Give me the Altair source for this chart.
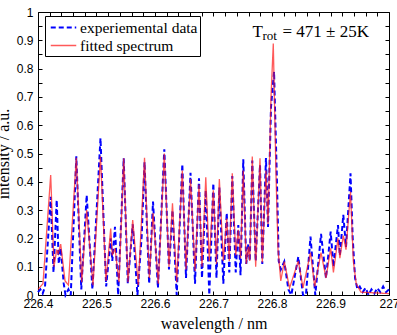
import altair as alt
import pandas as pd

series_names = ["experiemental data", "fitted spectrum"]
series_colors = ["#0000ff", "#ff1a1a"]

# experimental data (blue dashed)
exp_wl = [226.400, 226.404, 226.408, 226.412, 226.4217, 226.4265, 226.4320, 226.4355, 226.4388, 226.4440,
          226.4470, 226.4520, 226.4560, 226.4655, 226.4740, 226.4832, 226.4930, 226.5068, 226.5165, 226.5243,
          226.5270, 226.5316, 226.5370, 226.5465, 226.5535, 226.5619, 226.5700, 226.5773, 226.5821, 226.5900,
          226.5966, 226.6050, 226.6159, 226.6239, 226.6299, 226.6371, 226.6467, 226.6530, 226.6607, 226.6684,
          226.6752, 226.6803, 226.6868, 226.6928, 226.6997, 226.7051, 226.7100, 226.7168, 226.7226, 226.7270,
          226.7321, 226.7380, 226.7424, 226.7462, 226.7509, 226.7560, 226.7595, 226.7620, 226.7663, 226.7721,
          226.7795, 226.7834, 226.7897, 226.7932, 226.7983, 226.8035, 226.8085, 226.8115, 226.8150, 226.8210,
          226.8280, 226.8330, 226.8450, 226.8530, 226.8580, 226.8658, 226.8740, 226.8838, 226.8923, 226.9003,
          226.9050, 226.9128, 226.9160, 226.9219, 226.9265, 226.9342, 226.9380, 226.9420, 226.9460, 226.9500,
          226.9550, 226.9600, 226.9650, 226.9700, 226.9750, 226.9800, 226.9850, 226.9900, 226.9950, 227.000]
exp_int = [0.01, 0.02, 0.005, 0.03, 0.347, 0.08, 0.336, 0.11, 0.165, 0.04,
           0.0, 0.02, 0.0, 0.49, 0.02, 0.353, 0.02, 0.554, 0.03, 0.20,
           0.12, 0.241, 0.0, 0.483, 0.04, 0.25, 0.0, 0.21, 0.47, 0.04,
           0.33, 0.025, 0.515, 0.09, 0.30, 0.0, 0.463, 0.06, 0.432, 0.04,
           0.412, 0.06, 0.37, 0.0, 0.395, 0.06, 0.38, 0.04, 0.29, 0.08,
           0.42, 0.08, 0.247, 0.07, 0.48, 0.11, 0.18, 0.12, 0.475, 0.12,
           0.46, 0.11, 0.484, 0.24, 0.665, 0.789, 0.40, 0.12, 0.09, 0.118,
           0.02, 0.0, 0.135, 0.0, 0.0, 0.206, 0.0, 0.216, 0.06, 0.224,
           0.10, 0.247, 0.14, 0.283, 0.17, 0.43, 0.20, 0.06, 0.02, 0.03,
           0.01, 0.025, 0.0, 0.02, 0.005, 0.025, 0.01, 0.03, 0.01, 0.02]

# fitted spectrum (red solid)
fit_wl = [226.400, 226.4085, 226.4217, 226.4274, 226.4320, 226.4345, 226.4388, 226.4462, 226.4520, 226.4655,
          226.4747, 226.4832, 226.4940, 226.5068, 226.5162, 226.5243, 226.5270, 226.5316, 226.5385, 226.5465,
          226.5538, 226.5619, 226.5715, 226.5821, 226.5903, 226.5966, 226.6056, 226.6159, 226.6239, 226.6299,
          226.6371, 226.6467, 226.6530, 226.6607, 226.6684, 226.6752, 226.6803, 226.6868, 226.6928, 226.6997,
          226.7051, 226.7100, 226.7168, 226.7226, 226.7270, 226.7321, 226.7380, 226.7424, 226.7462, 226.7509,
          226.7560, 226.7595, 226.7620, 226.7663, 226.7721, 226.7795, 226.7834, 226.7897, 226.7932, 226.7983,
          226.8022, 226.8068, 226.8103, 226.8150, 226.8210, 226.8300, 226.8450, 226.8530, 226.8658, 226.8730,
          226.8838, 226.8923, 226.9003, 226.9050, 226.9128, 226.9160, 226.9219, 226.9265, 226.9342, 226.9390,
          226.9440, 226.9520, 227.000]
fit_int = [0.02, 0.04, 0.424, 0.10, 0.16, 0.145, 0.18, 0.05, 0.035, 0.485,
           0.045, 0.30, 0.035, 0.49, 0.05, 0.235, 0.14, 0.165, 0.045, 0.483,
           0.045, 0.265, 0.035, 0.485, 0.06, 0.29, 0.04, 0.50, 0.10, 0.324,
           0.045, 0.44, 0.09, 0.41, 0.085, 0.39, 0.10, 0.416, 0.12, 0.37,
           0.11, 0.41, 0.12, 0.27, 0.12, 0.43, 0.14, 0.23, 0.13, 0.44,
           0.11, 0.17, 0.12, 0.489, 0.10, 0.483, 0.115, 0.44, 0.25, 0.70,
           0.889, 0.43, 0.16, 0.05, 0.118, 0.025, 0.12, 0.025, 0.15, 0.03,
           0.15, 0.06, 0.165, 0.08, 0.20, 0.13, 0.21, 0.16, 0.365, 0.12,
           0.04, 0.01, 0.005]

x_tick_values = [round(226.4 + 0.02 * i, 2) for i in range(31)]
y_tick_values = [round(0.05 * i, 2) for i in range(21)]

annotation_parts = ["T", "rot", "= 471 \u00b1 25K"]

SERIF = "Liberation Serif, DejaVu Serif, serif"
SANS = "Liberation Sans, Arial, DejaVu Sans, sans-serif"

df = pd.concat([
    pd.DataFrame({"wl": exp_wl, "intensity": exp_int, "series": series_names[0]}),
    pd.DataFrame({"wl": fit_wl, "intensity": fit_int, "series": series_names[1]}),
], ignore_index=True)

xscale = alt.Scale(domain=[226.4, 227.0], nice=False, zero=False)
yscale = alt.Scale(domain=[0, 1], nice=False)

major_expr = "abs(datum.value*10 - round(datum.value*10)) < 0.001 ? format(datum.value, '~g') : ''"

common_axis = dict(grid=False, domain=False, tickColor="black", tickSize=4, offset=-4,
                   labelOverlap=False, labelFlush=False)

x_bottom = alt.Axis(orient="bottom", values=x_tick_values, labelExpr=major_expr,
                    labelFont=SANS, labelFontSize=12, labelColor="black", labelPadding=3,
                    title="wavelength / nm", titleFont=SERIF, titleFontSize=16,
                    titleFontWeight="normal", titleColor="black", titleX=175.5, titleY=37,
                    titleAlign="center", titleBaseline="alphabetic", **common_axis)
y_left = alt.Axis(orient="left", values=y_tick_values, labelExpr=major_expr,
                  labelFont=SANS, labelFontSize=12, labelColor="black", labelPadding=5,
                  title="intensity / a.u.", titleFont=SERIF, titleFontSize=16,
                  titleFontWeight="normal", titleColor="black", titleX=-34, titleY=141.5,
                  titleAngle=270, titleAlign="center", titleBaseline="alphabetic", **common_axis)
x_top = alt.Axis(orient="top", values=x_tick_values, labels=False, title=None, **common_axis)
y_right = alt.Axis(orient="right", values=y_tick_values, labels=False, title=None, **common_axis)

legend = alt.Legend(title=None, orient="none", legendX=7, legendY=4, strokeColor="black",
                    fillColor="white", padding=2, symbolType="M-1.5,0H1.5", symbolSize=289,
                    symbolOffset=7, symbolStrokeWidth=1.8, labelFont=SERIF, labelFontSize=15.5,
                    labelColor="black", labelOffset=7, rowPadding=0, cornerRadius=0,
                    labelExpr="datum.label + '\u00a0\u00a0'")

lines = alt.Chart(df).mark_line().encode(
    x=alt.X("wl:Q", scale=xscale, axis=x_bottom),
    y=alt.Y("intensity:Q", scale=yscale, axis=y_left),
    color=alt.Color("series:N", scale=alt.Scale(domain=series_names, range=series_colors), legend=legend),
    strokeDash=alt.StrokeDash("series:N", scale=alt.Scale(domain=series_names, range=[[5, 3], [1, 0]]),
                              legend=legend),
    strokeWidth=alt.StrokeWidth("series:N", scale=alt.Scale(domain=series_names, range=[2.0, 1.3]),
                                legend=None),
    opacity=alt.Opacity("series:N", scale=alt.Scale(domain=series_names, range=[1.0, 0.72]), legend=None),
)

frame = alt.Chart(df).mark_point(opacity=0).encode(
    x=alt.X("wl:Q", scale=xscale, axis=x_top),
    y=alt.Y("intensity:Q", scale=yscale, axis=y_right),
)

def label(text, px, py, size, align="left"):
    return alt.Chart(pd.DataFrame({"t": [text]})).mark_text(
        font=SERIF, fontSize=size, color="black", align=align, baseline="alphabetic"
    ).encode(x=alt.value(px), y=alt.value(py), text="t:N")

t1 = label(annotation_parts[0], 214.5, 24.7, 17)
t2 = label(annotation_parts[1], 224.5, 28.0, 13)
t3 = label(annotation_parts[2], 244.5, 24.7, 17)

chart = alt.layer(lines, frame, t1, t2, t3).resolve_axis(
    x="independent", y="independent"
).properties(
    width=351, height=283,
    autosize=alt.AutoSizeParams(type="none"),
    padding={"left": 38, "top": 12, "right": 8, "bottom": 40},
).configure_view(stroke="black", strokeWidth=1)

chart.save("out.html", embed_options={"renderer": "svg", "actions": False})
